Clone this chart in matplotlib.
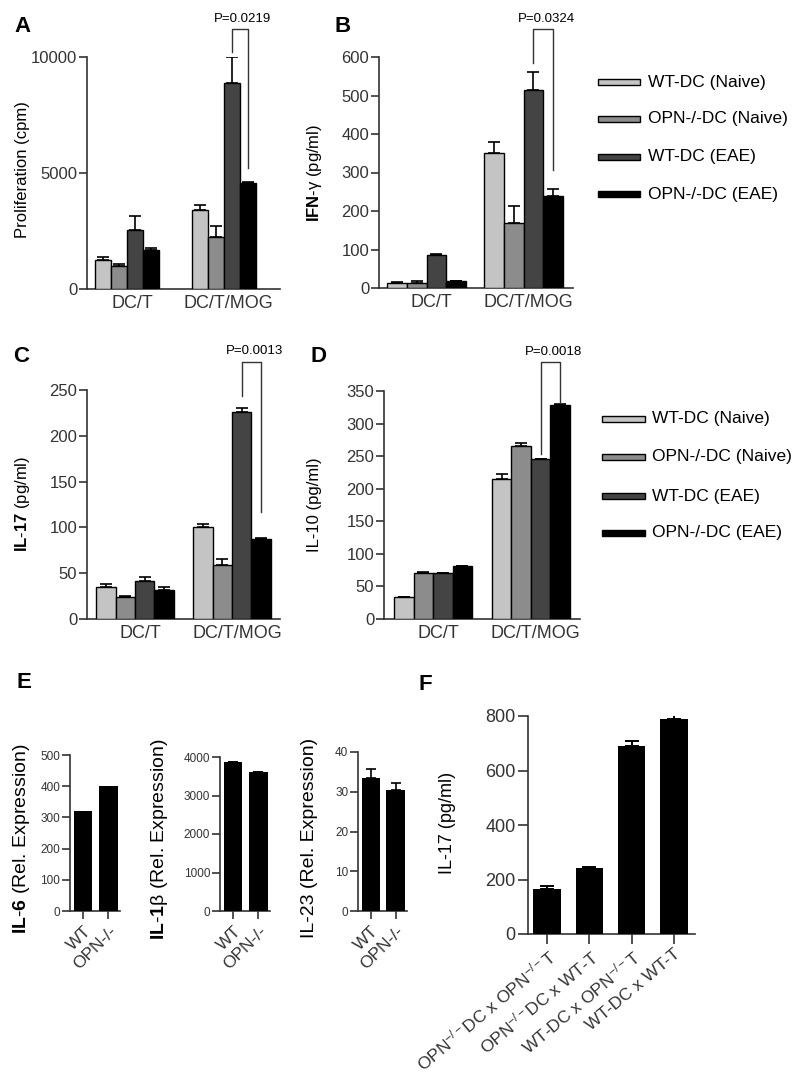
import matplotlib
matplotlib.use("Agg")
import matplotlib.pyplot as plt
import matplotlib.patches as mp
from matplotlib.transforms import ScaledTranslation
import numpy as np

plt.rcParams.update({
    "font.family": ["Liberation Sans", "DejaVu Sans"],
    "font.size": 12,
    "mathtext.fontset": "custom",
    "mathtext.rm": "Liberation Sans",
    "mathtext.it": "Liberation Sans:italic",
    "mathtext.bf": "Liberation Sans:bold",
    "axes.linewidth": 1.2,
    "axes.edgecolor": "#333333",
    "xtick.color": "#333333",
    "ytick.color": "#333333",
})

# ── data ────────────────────────────────────────────────────
groups = ["DC/T", "DC/T/MOG"]
series = ["WT-DC (Naive)", "OPN-/-DC (Naive)", "WT-DC (EAE)", "OPN-/-DC (EAE)"]

# rows = series, cols = groups
prolif_mean = [[1255, 3390], [970, 2240], [2525, 8870], [1660, 4570]]
prolif_err = [[115, 215], [115, 475], [605, 1110], [115, 30]]
ifng_mean = [[13, 350], [14, 170], [86, 514], [17, 239]]
ifng_err = [[2, 28], [3, 42], [3, 46], [1, 18]]
il17_mean = [[35, 100], [24, 59], [42, 226], [32, 87]]
il17_err = [[3, 4], [1, 7], [4, 4], [3, 1]]
il10_mean = [[34, 215], [71, 266], [70, 245], [81, 328]]
il10_err = [[0, 8], [1, 4], [1, 1], [1, 2]]

# P brackets: (top, left leg end, right leg end)
p_prolif = (11200, 10200, 5200, "P=0.0219")
p_ifng = (673, 584, 306, "P=0.0324")
p_il17 = (281, 243, 117, "P=0.0013")
p_il10 = (395, 254, 331, "P=0.0018")

genotypes = ["WT", "OPN-/-"]
il6_rel = [320, 400]
il1b_rel = [3880, 3600]
il1b_err = [0, 20]
il23_rel = [33.5, 30.5]
il23_err = [2.2, 1.8]

combos = [r"OPN$^{-/-}$DC x OPN$^{-/-}$T", r"OPN$^{-/-}$DC x WT-T",
          r"WT-DC x OPN$^{-/-}$T", "WT-DC x WT-T"]
il17_combo = [164, 241, 690, 788]
il17_combo_err = [12, 5, 20, 22]

COLORS = ["#c4c4c4", "#8c8c8c", "#444444", "#000000"]
DARK = "#333333"

W, H = 800, 1088
fig = plt.figure(figsize=(W / 100, H / 100), dpi=100)
fig.patch.set_facecolor("white")


def add_ax(l, t, r, b):
    ax = fig.add_axes([l / W, 1 - b / H, (r - l) / W, (b - t) / H])
    ax.spines[["top", "right"]].set_visible(False)
    ax.patch.set_alpha(0)
    return ax


def grouped(ax, mean, err, bw, xlim, ylim, yticks, ptest):
    mean = np.array(mean); err = np.array(err)
    centers = np.arange(len(groups))
    for i in range(len(series)):
        x = centers + (i - 1.5) * bw
        ax.bar(x, mean[i], bw, color=COLORS[i], edgecolor="black", lw=1.0, zorder=3)
        ax.errorbar(x, mean[i], yerr=[np.zeros(len(groups)), err[i]], fmt="none",
                    ecolor="black", elinewidth=1.2, capsize=4, capthick=1.2, zorder=2)
    ax.set_xlim(*xlim); ax.set_ylim(*ylim)
    ax.set_yticks(yticks)
    ax.tick_params(axis="y", length=6, width=1.2, pad=1, labelsize=12)
    ax.set_xticks(centers, groups)
    ax.tick_params(axis="x", length=0, pad=4, labelsize=13)
    for lab in ax.get_xticklabels():
        lab.set_transform(lab.get_transform() + ScaledTranslation(0.05, 0, fig.dpi_scale_trans))
    top, yl, yr, txt = ptest
    xl = 1 + 0.5 * bw; xr = 1 + 1.5 * bw
    ax.plot([xl, xl, xr, xr], [yl, top, top, yr], color=DARK, lw=1.0, clip_on=False)
    ax.annotate(txt, ((xl + xr) / 2, top), xytext=(2, 3), textcoords="offset points",
                ha="center", va="bottom", fontsize=9.5, annotation_clip=False)


axA = add_ax(87, 57, 280, 289)
grouped(axA, prolif_mean, prolif_err, 0.166, (-0.415, 1.585), (0, 10000),
        [0, 5000, 10000], p_prolif)
axB = add_ax(379, 57, 573, 288)
grouped(axB, ifng_mean, ifng_err, 0.204, (-0.49, 1.51), (0, 600),
        range(0, 601, 100), p_ifng)
axC = add_ax(87, 390, 280, 619)
grouped(axC, il17_mean, il17_err, 0.2, (-0.495, 1.495), (0, 250),
        range(0, 251, 50), p_il17)
axD = add_ax(384, 391, 580, 619)
grouped(axD, il10_mean, il10_err, 0.2, (-0.505, 1.505), (0, 350),
        range(0, 351, 50), p_il10)


def small(ax, vals, errs, ylim, yticks):
    x = np.arange(len(genotypes))
    ax.bar(x, vals, 0.74, color="black", zorder=3)
    if errs is not None:
        ax.errorbar(x, vals, yerr=[np.zeros(len(x)), errs], fmt="none", ecolor="black",
                    elinewidth=1.2, capsize=3.5, capthick=1.2, zorder=2)
    ax.set_xlim(-0.52, 1.46); ax.set_ylim(*ylim)
    ax.set_yticks(yticks)
    ax.tick_params(axis="y", length=6, width=1.2, pad=1, labelsize=8.5)
    ax.set_xticks(x, genotypes, rotation=45, ha="right", rotation_mode="anchor")
    ax.tick_params(axis="x", length=6, width=1.2, pad=3, labelsize=12.5)


axE1 = add_ax(70, 755, 120, 911)
small(axE1, il6_rel, None, (0, 500), range(0, 501, 100))
axE2 = add_ax(220, 757, 270, 911)
small(axE2, il1b_rel, il1b_err, (0, 4000), range(0, 4001, 1000))
axE3 = add_ax(358, 752, 407, 911)
small(axE3, il23_rel, il23_err, (0, 40), range(0, 41, 10))

axF = add_ax(528, 716, 695, 934)
xf = np.arange(len(combos))
axF.bar(xf, il17_combo, 0.65, color="black", zorder=3)
axF.errorbar(xf, il17_combo, yerr=[np.zeros(len(xf)), il17_combo_err], fmt="none",
             ecolor="black", elinewidth=1.4, capsize=5, capthick=1.4, zorder=2)
axF.set_xlim(-0.45, 3.5); axF.set_ylim(0, 800)
axF.set_yticks(range(0, 801, 200))
axF.tick_params(axis="y", length=7, width=1.2, pad=2, labelsize=13)
axF.set_xticks(xf, combos, rotation=40, ha="right", rotation_mode="anchor")
axF.tick_params(axis="x", length=7, width=1.2, pad=2, labelsize=12.5)

# ── overlay: letters, y labels, legends ─────────────────────
ov = fig.add_axes([0, 0, 1, 1])
ov.set_xlim(0, W); ov.set_ylim(H, 0); ov.axis("off")

for letter, x, y in [("A", 14, 26), ("B", 335, 26), ("C", 13, 357), ("D", 311, 357),
                     ("E", 16, 683), ("F", 418, 685)]:
    ov.text(x, y, letter, fontsize=16, fontweight="bold", ha="left", va="center")

ylabels = [
    ("Proliferation (cpm)", 23, 170, 12),
    (r"$\mathbf{IFN}$-γ (pg/ml)", 314, 173, 12),
    (r"$\mathbf{IL}$-$\mathbf{17}$ (pg/ml)", 23, 504, 12),
    ("IL-10 (pg/ml)", 314, 505, 12),
    (r"$\mathbf{IL}$-$\mathbf{6}$ (Rel. Expression)", 22, 839, 14),
    (r"$\mathbf{IL}$-$\mathbf{1}$β (Rel. Expression)", 160, 839, 14),
    ("IL-23 (Rel. Expression)", 310, 838, 14),
    ("IL-17 (pg/ml)", 447, 823, 13),
]
for txt, x, y, fs in ylabels:
    ov.text(x, y, txt, rotation=90, ha="center", va="center", fontsize=fs)


def legend(x0, x1, tx, rows):
    for i, (name, y) in enumerate(zip(series, rows)):
        ov.add_patch(mp.Rectangle((x0, y - 3), x1 - x0, 6, facecolor=COLORS[i],
                                  edgecolor="black", lw=1.0))
        ov.text(tx, y, name, ha="left", va="center", fontsize=12.5)


legend(598, 640, 648, [82, 119, 157, 194])
legend(602, 645, 652, [419, 457, 496, 533])

fig.savefig("out.png", dpi=100, facecolor="white")
